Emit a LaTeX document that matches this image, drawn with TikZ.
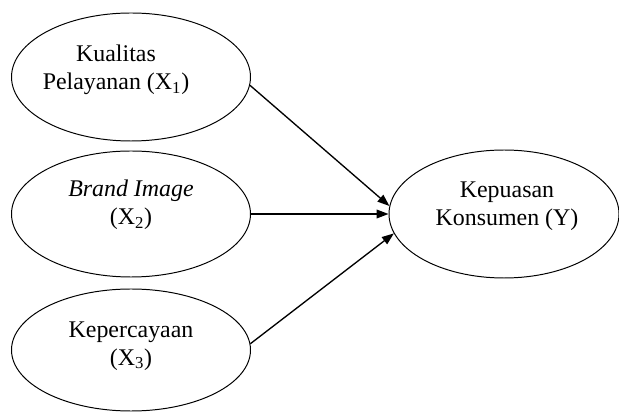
\documentclass[tikz,border=0pt]{standalone}
\usepackage{fontspec}
\setmainfont{Liberation Serif}
\usepackage{tikz}
\usetikzlibrary{arrows.meta,shapes.geometric}

\begin{document}
\begin{tikzpicture}[x=0.025cm, y=-0.025cm,
    var/.style={draw, ellipse, line width=0.7pt, inner sep=0pt, minimum width=239*0.025cm},
    lbl/.style={align=center, font=\fontsize{17}{20}\selectfont},
    path/.style={line width=0.95pt, -{Triangle[length=0.3cm, width=0.22cm]}}]
        \useasboundingbox (0,0) rectangle (619,412);

        % Independent variables
        \node[var, minimum height=128*0.025cm] (x1) at (131,77) {};
        \node[var, minimum height=126*0.025cm] (x2) at (131,214) {};
        \node[var, minimum height=122*0.025cm] (x3) at (131,350) {};
        \node[lbl] (x1t) at (116,70) {Kualitas\\Pelayanan (X\textsubscript{1})};
        \node[lbl] (x2t) at (131,205) {\textit{Brand Image}\\(X\textsubscript{2})};
        \node[lbl] (x3t) at (131,346) {Kepercayaan\\(X\textsubscript{3})};

        % Dependent variable
        \node[var, minimum width=230*0.025cm, minimum height=128*0.025cm] (y) at (504,214) {};
        \node[lbl] (yt) at (507,206) {Kepuasan\\Konsumen (Y)};

        % Paths
        \draw[path] (x1.-4) -- (y.176);
        \draw[path] (x2.east) -- (y.west);
        \draw[path] (x3.3) -- (y.190);
      \end{tikzpicture}
\end{document}
